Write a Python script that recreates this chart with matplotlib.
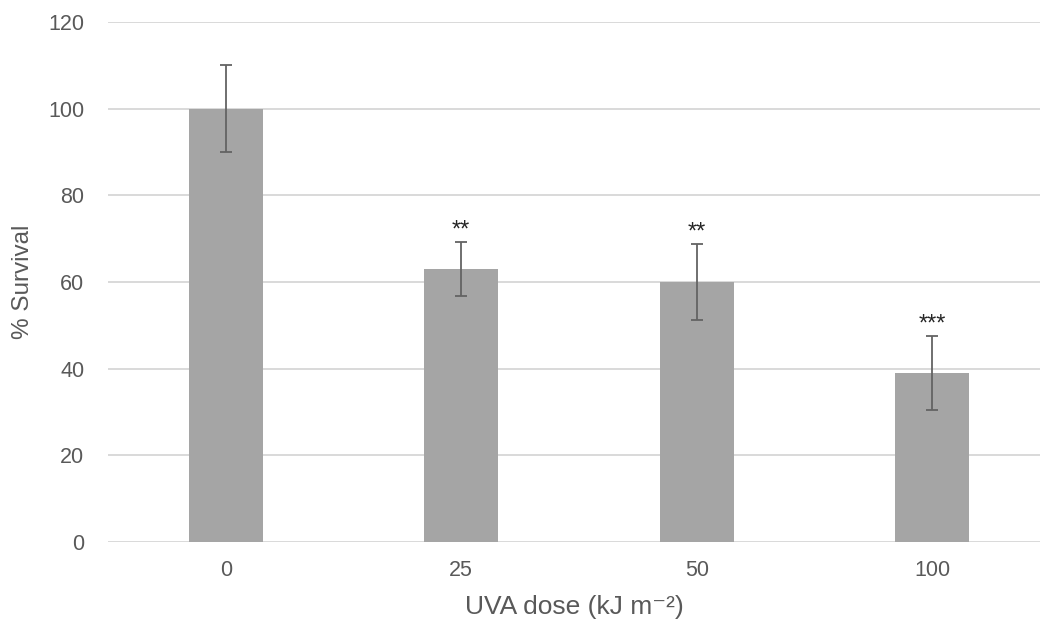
import matplotlib
matplotlib.use("Agg")
import matplotlib.pyplot as plt
import numpy as np

plt.rcParams['font.family'] = ['Liberation Sans', 'DejaVu Sans']

doses = ["0", "25", "50", "100"]
survival = [100, 63, 60, 39]
errors = [10, 6.2, 8.7, 8.6]
significance = ["", "**", "**", "***"]

text_grey = "#595959"

fig = plt.figure(figsize=(10.4, 6.24), dpi=100)
ax = fig.add_axes([108 / 1040, 1 - 542 / 624, 1 - 108 / 1040, (542 - 22) / 624])

x = np.arange(len(doses))
ax.bar(x, survival, width=0.314, color="#A5A5A5", zorder=2)
ax.errorbar(x, survival, yerr=errors, fmt="none", ecolor="#636363",
            elinewidth=1.3, capsize=4, capthick=1.3, zorder=3)

for xi, val, err, sig in zip(x, survival, errors, significance):
    if sig:
        ax.annotate(sig, (xi, val + err), xytext=(0, 4), textcoords="offset points",
                    ha="center", va="baseline", fontsize=17, color="#262626")

ax.set_xlim(-0.5, -0.5 + (1040 - 108) / 235.5)
ax.set_ylim(0, 120)
ax.set_yticks(np.arange(0, 121, 20))
ax.set_xticks(x)
ax.set_xticklabels(doses)
ax.yaxis.grid(True, color="#D9D9D9", linewidth=1.4, zorder=0)
ax.set_axisbelow(True)
for s in ax.spines.values():
    s.set_visible(False)
ax.tick_params(axis="both", length=0, labelsize=15.5, colors=text_grey)
ax.tick_params(axis="y", pad=17)
ax.tick_params(axis="x", pad=13)

ax.set_xlabel("UVA dose (kJ m\u207b\u00b2)", fontsize=19, color=text_grey, labelpad=10)
ax.set_ylabel("% Survival", fontsize=17.5, color=text_grey)
ax.yaxis.set_label_coords(-74 / 932, 0.5)

fig.savefig("out.png", dpi=100)
